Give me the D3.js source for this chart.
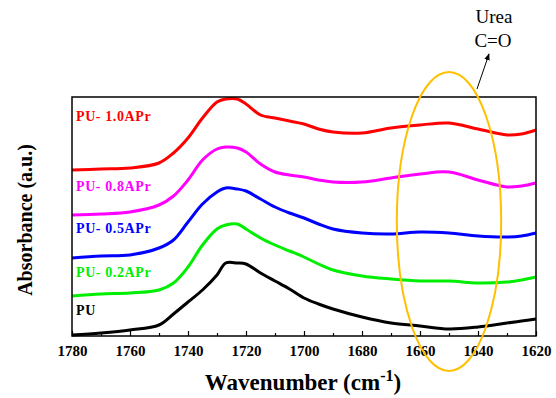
<!DOCTYPE html>
<html>
<head>
<meta charset="utf-8">
<title>FTIR C=O region</title>
<script src="https://cdn.jsdelivr.net/npm/d3@7"></script>
<style>
  body { margin: 0; background: #fff; }
  svg text { font-family: "Liberation Serif", "Times New Roman", serif; }
</style>
</head>
<body>
<script>
// wavenumbers shared by every spectrum (cm-1)
var wavenumbers = [1780, 1770, 1760, 1750, 1745, 1740, 1735, 1730, 1727, 1723, 1720, 1715,
                   1710, 1705, 1700, 1695, 1690, 1680, 1670, 1660, 1650, 1640, 1630, 1625, 1620];

// absorbance (a.u., stacked offsets as in the figure)
var pu    = [0.01, 0.03, 0.06, 0.11, 0.22, 0.34, 0.46, 0.61, 0.73, 0.73, 0.72, 0.63,
             0.55, 0.47, 0.38, 0.32, 0.27, 0.19, 0.13, 0.10, 0.07, 0.09, 0.13, 0.15, 0.17];
var pu02  = [0.40, 0.42, 0.43, 0.46, 0.53, 0.69, 0.91, 1.07, 1.11, 1.12, 1.07, 0.98,
             0.91, 0.85, 0.79, 0.72, 0.66, 0.60, 0.57, 0.55, 0.55, 0.53, 0.54, 0.56, 0.59];
var pu05  = [0.78, 0.80, 0.81, 0.88, 0.96, 1.14, 1.32, 1.44, 1.48, 1.47, 1.45, 1.37,
             1.29, 1.23, 1.18, 1.12, 1.07, 1.03, 1.02, 1.04, 1.03, 1.00, 0.99, 1.00, 1.03];
var pu08  = [1.21, 1.22, 1.24, 1.31, 1.40, 1.56, 1.76, 1.87, 1.89, 1.88, 1.84, 1.72,
             1.64, 1.61, 1.59, 1.56, 1.54, 1.54, 1.58, 1.62, 1.64, 1.56, 1.49, 1.50, 1.53];
var pu10  = [1.66, 1.67, 1.68, 1.73, 1.83, 1.98, 2.18, 2.34, 2.37, 2.37, 2.32, 2.21,
             2.18, 2.15, 2.12, 2.07, 2.04, 2.03, 2.08, 2.11, 2.13, 2.07, 2.01, 2.02, 2.06];

var seriesNames  = ["PU", "PU- 0.2APr", "PU- 0.5APr", "PU- 0.8APr", "PU- 1.0APr"];
var seriesValues = [pu, pu02, pu05, pu08, pu10];
var seriesColors = ["#000000", "#00ee00", "#0000ff", "#ff00ff", "#ff0000"];
// label anchor value (a.u.) for each series name
var labelLevels  = [0.21, 0.59, 1.03, 1.45, 2.15];

var xTicks = [1780, 1760, 1740, 1720, 1700, 1680, 1660, 1640, 1620];
var xMinor = d3.range(1770, 1620, -20);

var width = 556, height = 398,
    margins = { left: 72, top: 97, right: 20, bottom: 62 };

var svg = d3.select("body").append("svg")
    .attr("width", width)
    .attr("height", height);

var x = d3.scaleLinear().domain([1780, 1620]).range([margins.left, width - margins.right]);
var y = d3.scaleLinear().domain([0, 2.39]).range([height - margins.bottom, margins.top]);

var yBottom = height - margins.bottom;

// ticks pointing inward from the bottom edge
svg.append("g")
    .attr("transform", "translate(0," + yBottom + ")")
    .call(d3.axisBottom(x).tickValues(xTicks).tickSizeInner(-5).tickSizeOuter(0).tickPadding(9).tickFormat(d3.format("d")))
    .call(function (g) {
        g.select(".domain").remove();
        g.selectAll("line").attr("stroke", "#000").attr("stroke-width", 1.2);
        g.selectAll("text")
            .attr("fill", "#000")
            .style("font-size", "15px")
            .style("font-weight", "bold");
    });

svg.append("g")
    .attr("transform", "translate(0," + yBottom + ")")
    .call(d3.axisBottom(x).tickValues(xMinor).tickSizeInner(-3).tickSizeOuter(0).tickFormat(""))
    .call(function (g) {
        g.select(".domain").remove();
        g.selectAll("line").attr("stroke", "#000").attr("stroke-width", 1.2);
    });

// spectra
var line = d3.line()
    .x(function (d, i) { return x(wavenumbers[i]); })
    .y(function (d) { return y(d); })
    .curve(d3.curveCatmullRom.alpha(0.5));

svg.selectAll("path.spectrum")
    .data(seriesValues)
    .enter()
    .append("path")
    .attr("class", "spectrum")
    .attr("fill", "none")
    .attr("stroke", function (d, i) { return seriesColors[i]; })
    .attr("stroke-width", 3)
    .attr("stroke-linejoin", "round")
    .attr("d", line);

// frame
svg.append("rect")
    .attr("x", margins.left)
    .attr("y", margins.top)
    .attr("width", width - margins.left - margins.right)
    .attr("height", yBottom - margins.top)
    .attr("fill", "none")
    .attr("stroke", "#000")
    .attr("stroke-width", 1.5);

// series labels
svg.selectAll("text.series")
    .data(seriesNames)
    .enter()
    .append("text")
    .attr("class", "series")
    .attr("x", margins.left + 4)
    .attr("y", function (d, i) { return y(labelLevels[i]); })
    .attr("fill", function (d, i) { return seriesColors[i]; })
    .style("font-size", "14px")
    .style("font-weight", "bold")
    .style("letter-spacing", "0.6px")
    .text(function (d) { return d; });

// urea C=O highlight
svg.append("ellipse")
    .attr("cx", x(1650))
    .attr("cy", 221.5)
    .attr("rx", x(1632) - x(1650))
    .attr("ry", 149.5)
    .attr("fill", "none")
    .attr("stroke", "#ffc000")
    .attr("stroke-width", 2);

svg.append("defs").append("marker")
    .attr("id", "arrow")
    .attr("viewBox", "0 0 10 10")
    .attr("refX", 9).attr("refY", 5)
    .attr("markerWidth", 7).attr("markerHeight", 7)
    .attr("orient", "auto")
    .append("path")
    .attr("d", "M0,1 L10,5 L0,9 z")
    .attr("fill", "#000");

svg.append("line")
    .attr("x1", 477).attr("y1", 89)
    .attr("x2", 489).attr("y2", 54)
    .attr("stroke", "#000")
    .attr("stroke-width", 1)
    .attr("marker-end", "url(#arrow)");

svg.append("text")
    .attr("x", 494).attr("y", 23)
    .attr("text-anchor", "middle")
    .style("font-size", "19px")
    .text("Urea");

svg.append("text")
    .attr("x", 493).attr("y", 47)
    .attr("text-anchor", "middle")
    .style("font-size", "19px")
    .text("C=O");

// axis titles
var xt = svg.append("text")
    .attr("x", 303).attr("y", 390)
    .attr("text-anchor", "middle")
    .style("font-size", "23px")
    .style("font-weight", "bold");
xt.append("tspan").text("Wavenumber (cm");
xt.append("tspan").attr("dy", -9).style("font-size", "16px").text("-1");
xt.append("tspan").attr("dy", 9).text(")");

svg.append("text")
    .attr("transform", "translate(32,220) rotate(-90)")
    .attr("text-anchor", "middle")
    .style("font-size", "20px")
    .style("font-weight", "bold")
    .text("Absorbance (a.u.)");
</script>
</body>
</html>
